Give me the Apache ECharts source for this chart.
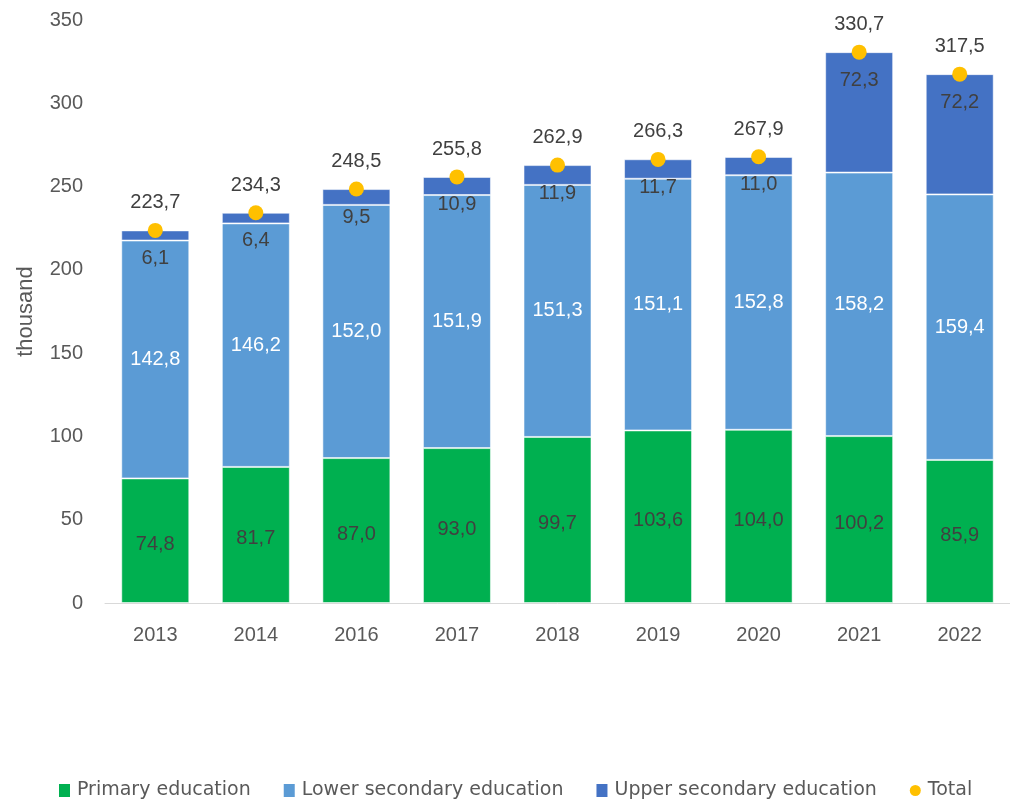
<!DOCTYPE html>
<html>
<head>
<meta charset="utf-8">
<script src="https://cdn.jsdelivr.net/npm/echarts@6/dist/echarts.min.js"></script>
<style>
  html, body { margin: 0; padding: 0; background: #fff; }
  #chart { width: 1010px; height: 799px; }
</style>
</head>
<body>
<div id="chart"></div>
<script>
const years = ['2013', '2014', '2016', '2017', '2018', '2019', '2020', '2021', '2022']
const primary = [74.8, 81.7, 87.0, 93.0, 99.7, 103.6, 104.0, 100.2, 85.9]
const lowerSecondary = [142.8, 146.2, 152.0, 151.9, 151.3, 151.1, 152.8, 158.2, 159.4]
const upperSecondary = [6.1, 6.4, 9.5, 10.9, 11.9, 11.7, 11.0, 72.3, 72.2]
const total = [223.7, 234.3, 248.5, 255.8, 262.9, 266.3, 267.9, 330.7, 317.5]

const font = 'Liberation Sans'
const fmt = p => p.value.toFixed(1).replace('.', ',')
const barBorder = { borderColor: 'rgba(255,255,255,0.55)', borderWidth: 1 }

const chart = echarts.init(document.getElementById('chart'))
chart.setOption({
  animation: false,
  textStyle: { fontFamily: font },
  grid: { left: 105, top: 20, width: 919, height: 583 },
  legend: {
    top: 776,
    left: 54,
    itemGap: 33,
    itemWidth: 11,
    itemHeight: 13,
    itemStyle: { borderWidth: 0 },
    textStyle: { fontSize: 19, color: '#595959', fontFamily: 'DejaVu Sans', padding: [0, 0, 0, 2] },
    data: [
      { name: 'Primary education', icon: 'rect' },
      { name: 'Lower secondary education', icon: 'rect' },
      { name: 'Upper secondary education', icon: 'rect' },
      { name: 'Total', icon: 'circle' }
    ]
  },
  xAxis: {
    type: 'category',
    data: years,
    axisLine: { lineStyle: { color: '#d9d9d9', width: 1 } },
    axisTick: { show: false },
    axisLabel: { fontSize: 20, color: '#595959', margin: 22 }
  },
  yAxis: {
    type: 'value',
    min: 0,
    max: 350,
    interval: 50,
    name: 'thousand',
    nameLocation: 'middle',
    nameGap: 68,
    nameTextStyle: { fontSize: 22, color: '#595959' },
    splitLine: { show: false },
    axisLine: { show: false },
    axisLabel: { fontSize: 20, color: '#595959', margin: 22 }
  },
  series: [
    {
      name: 'Primary education',
      type: 'bar',
      stack: 'edu',
      barWidth: 68,
      data: primary,
      itemStyle: Object.assign({ color: '#00B050' }, barBorder),
      label: { show: true, position: 'inside', offset: [0, 4], fontSize: 20, color: '#404040', formatter: fmt }
    },
    {
      name: 'Lower secondary education',
      type: 'bar',
      stack: 'edu',
      data: lowerSecondary,
      itemStyle: Object.assign({ color: '#5B9BD5' }, barBorder),
      label: { show: true, position: 'inside', fontSize: 20, color: '#ffffff', formatter: fmt }
    },
    {
      name: 'Upper secondary education',
      type: 'bar',
      stack: 'edu',
      data: upperSecondary,
      itemStyle: Object.assign({ color: '#4472C4' }, barBorder),
      label: { show: true, position: 'insideTop', distance: 18, fontSize: 20, color: '#404040', formatter: fmt }
    },
    {
      name: 'Total',
      type: 'scatter',
      data: total,
      symbolSize: 15,
      z: 5,
      itemStyle: { color: '#FFC000', opacity: 1 },
      label: { show: true, position: 'top', distance: 10, fontSize: 20, color: '#404040', formatter: fmt }
    }
  ]
})
</script>
</body>
</html>
